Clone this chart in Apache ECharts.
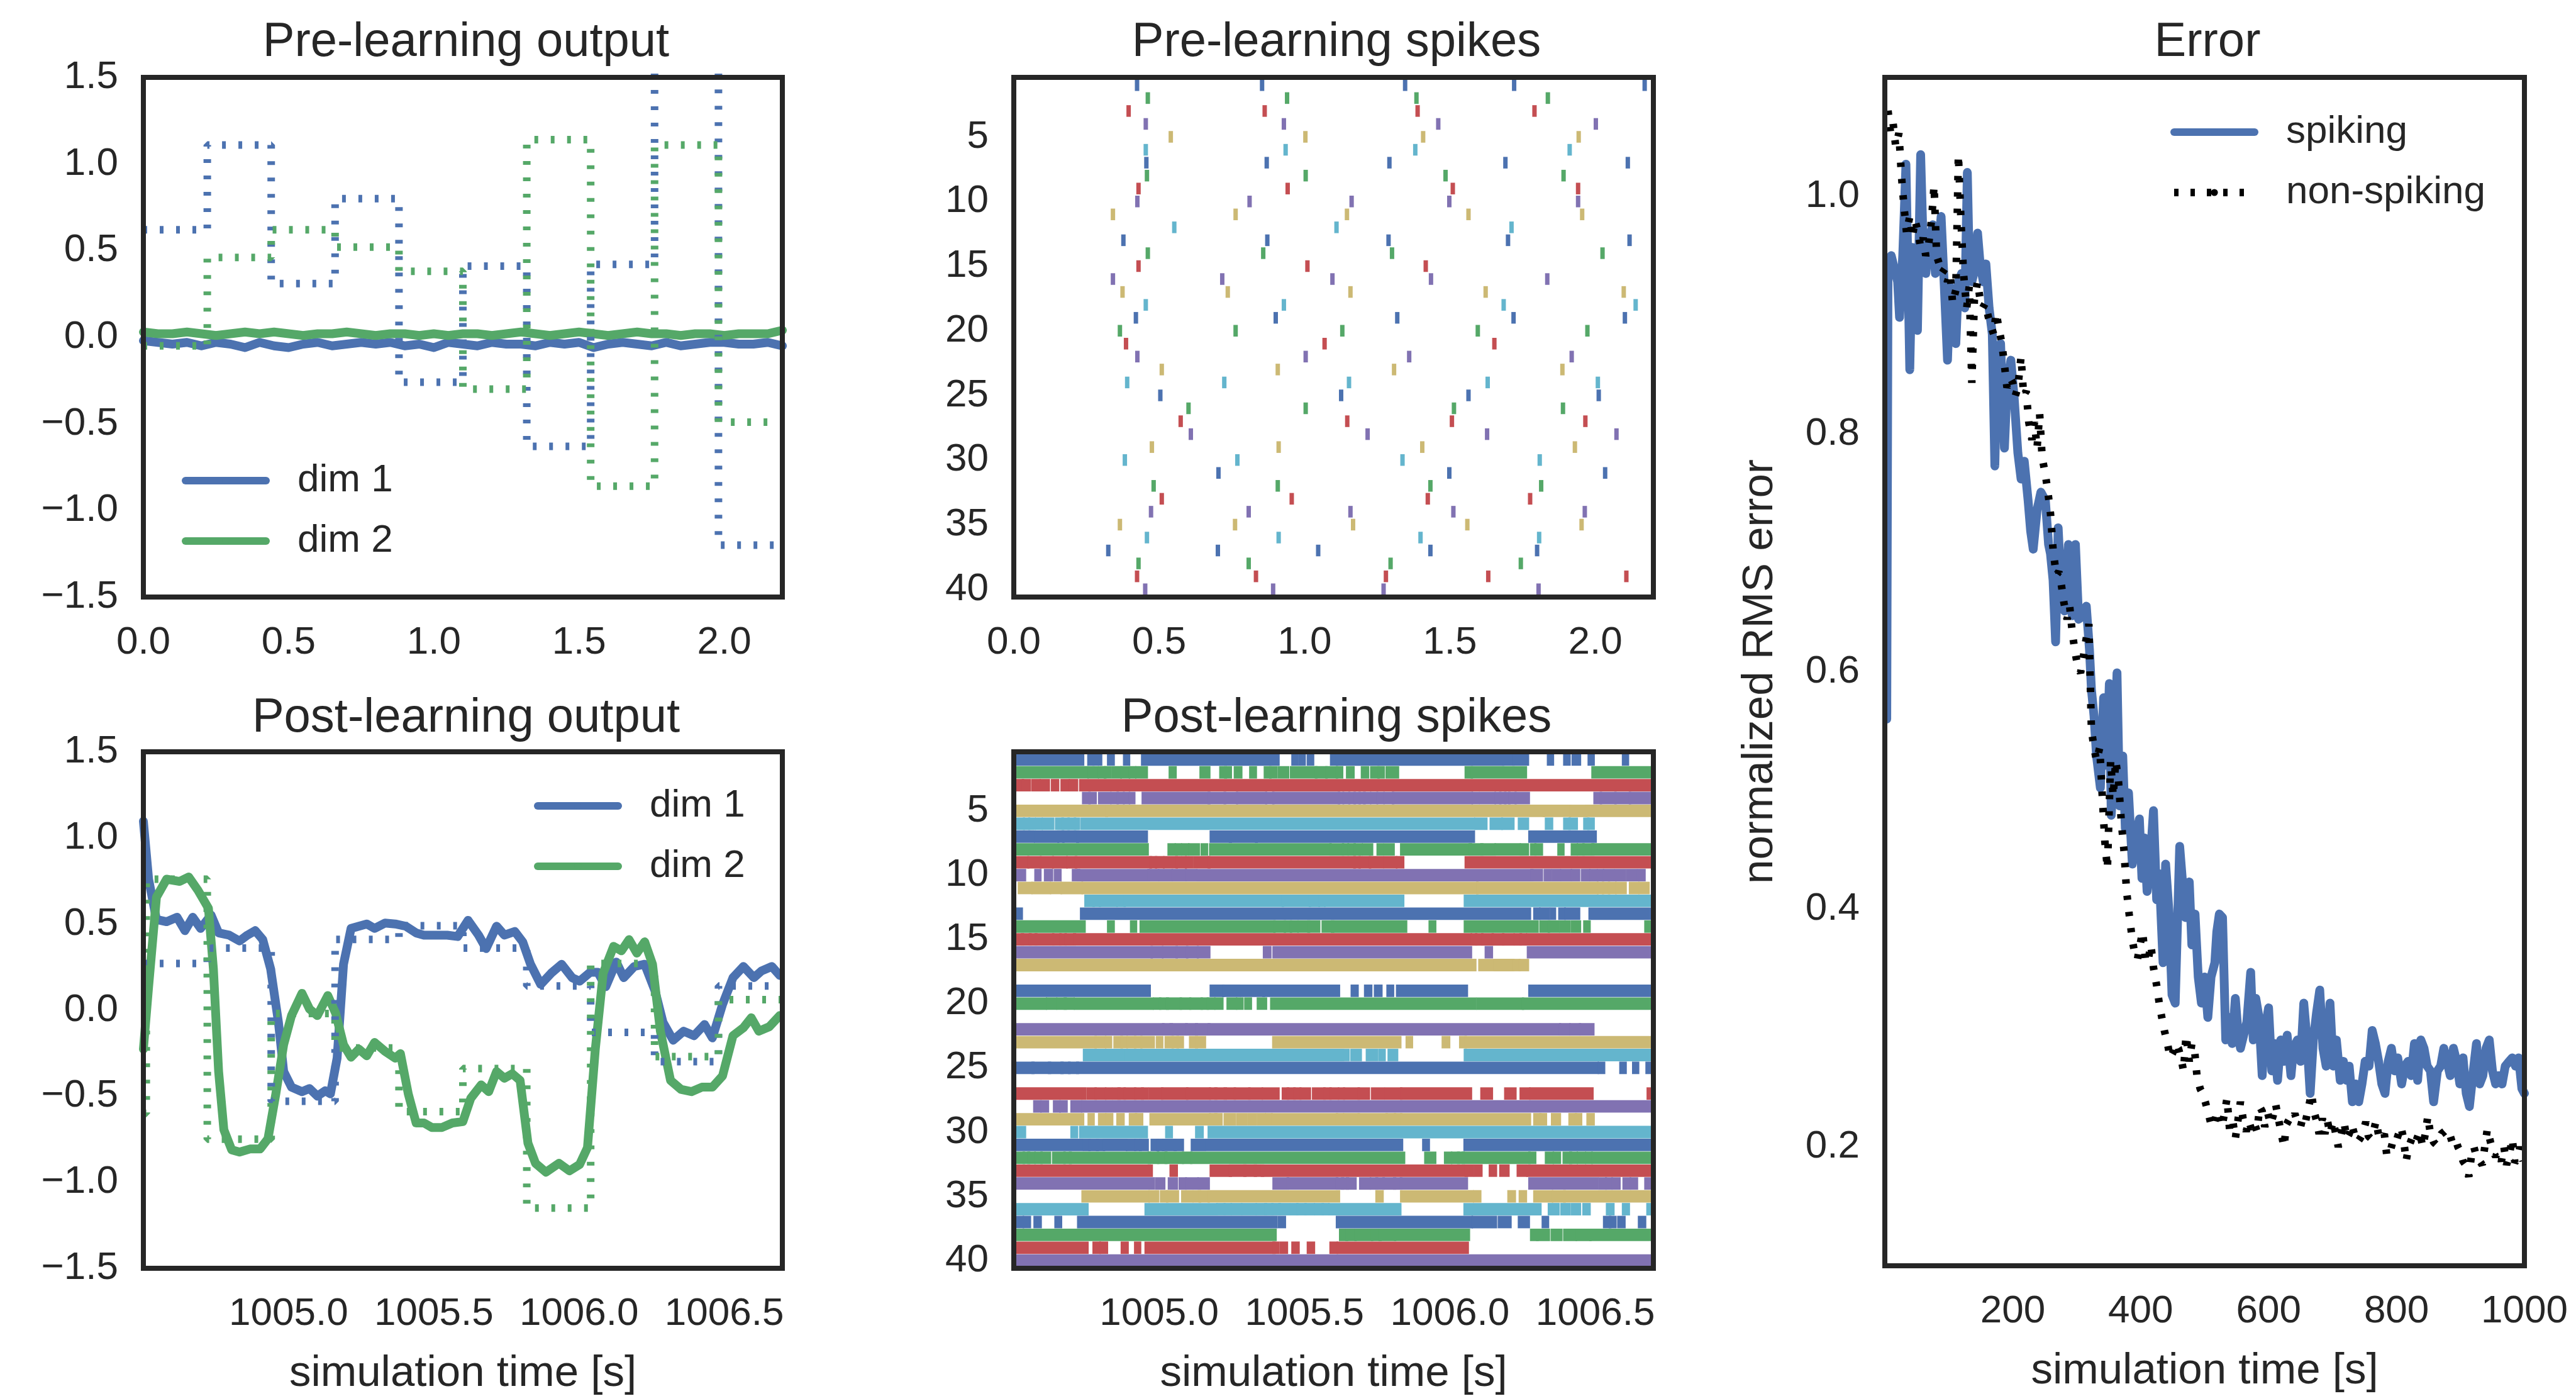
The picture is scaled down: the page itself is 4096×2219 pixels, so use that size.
<!DOCTYPE html>
<html>
<head>
<meta charset="utf-8">
<script src="https://cdn.jsdelivr.net/npm/echarts@6/dist/echarts.min.js"></script>
<style>
html,body{margin:0;padding:0;background:#fff;}
#chart{width:4096px;height:2219px;}
</style>
</head>
<body>
<div id="chart"></div>
<script>
// ---------------- DATA ----------------
const palette = ['#4C72B0', '#55A868', '#C44E52', '#8172B2', '#CCB974', '#64B5CD'];

// Pre-learning output
const preTime = [0.00,0.05,0.10,0.15,0.20,0.25,0.30,0.35,0.40,0.45,0.50,0.55,0.60,0.65,0.70,0.75,0.80,0.85,0.90,0.95,1.00,1.05,1.10,1.15,1.20,1.25,1.30,1.35,1.40,1.45,1.50,1.55,1.60,1.65,1.70,1.75,1.80,1.85,1.90,1.95,2.00,2.05,2.10,2.15,2.20];
const preDim1 = [-0.02,-0.03,-0.04,-0.03,-0.05,-0.03,-0.04,-0.06,-0.03,-0.05,-0.06,-0.04,-0.03,-0.05,-0.04,-0.03,-0.04,-0.03,-0.05,-0.04,-0.06,-0.03,-0.04,-0.05,-0.03,-0.04,-0.04,-0.05,-0.03,-0.04,-0.03,-0.06,-0.04,-0.03,-0.04,-0.05,-0.03,-0.05,-0.04,-0.03,-0.03,-0.04,-0.04,-0.03,-0.05];
const preDim2 = [0.03,0.02,0.02,0.03,0.02,0.01,0.02,0.03,0.02,0.03,0.02,0.01,0.02,0.02,0.03,0.02,0.01,0.02,0.02,0.01,0.02,0.01,0.02,0.02,0.01,0.02,0.03,0.02,0.01,0.02,0.03,0.02,0.01,0.02,0.03,0.02,0.02,0.01,0.02,0.02,0.01,0.02,0.02,0.02,0.04];
const preTargetTime = [0,0.22,0.44,0.66,0.88,1.10,1.32,1.54,1.76,1.98,2.20];
const preTarget1 = [0.62,1.11,0.31,0.80,-0.26,0.41,-0.63,0.42,1.80,-1.20,-1.20];
const preTarget2 = [-0.05,0.46,0.62,0.52,0.38,-0.30,1.14,-0.86,1.11,-0.49,-0.49];

// Post-learning output
const postTime1 = [1004.500,1004.518,1004.545,1004.580,1004.616,1004.643,1004.670,1004.697,1004.733,1004.759,1004.795,1004.831,1004.858,1004.885,1004.911,1004.938,1004.965,1004.983,1005.010,1005.046,1005.072,1005.099,1005.126,1005.144,1005.167,1005.189,1005.215,1005.242,1005.269,1005.296,1005.332,1005.367,1005.403,1005.439,1005.466,1005.511,1005.546,1005.582,1005.618,1005.654,1005.680,1005.716,1005.743,1005.779,1005.806,1005.833,1005.868,1005.904,1005.940,1005.976,1006.002,1006.038,1006.065,1006.092,1006.128,1006.154,1006.190,1006.226,1006.262,1006.289,1006.324,1006.360,1006.396,1006.432,1006.459,1006.494,1006.530,1006.566,1006.602,1006.628,1006.664,1006.691];
const postDim1 = [1.097,0.760,0.526,0.513,0.539,0.461,0.539,0.474,0.552,0.448,0.435,0.401,0.435,0.461,0.409,0.240,-0.071,-0.357,-0.448,-0.474,-0.456,-0.500,-0.469,-0.487,-0.279,0.266,0.474,0.487,0.500,0.474,0.505,0.500,0.487,0.448,0.435,0.435,0.435,0.427,0.521,0.435,0.357,0.487,0.435,0.456,0.396,0.266,0.149,0.214,0.266,0.188,0.168,0.219,0.219,0.136,0.279,0.188,0.253,0.266,0.110,-0.071,-0.175,-0.123,-0.149,-0.084,-0.162,0.032,0.188,0.253,0.188,0.227,0.253,0.201];
const postTime2 = [1004.500,1004.518,1004.545,1004.580,1004.625,1004.656,1004.688,1004.724,1004.741,1004.759,1004.777,1004.804,1004.831,1004.867,1004.902,1004.929,1004.956,1004.983,1005.010,1005.046,1005.072,1005.099,1005.135,1005.162,1005.189,1005.215,1005.242,1005.269,1005.296,1005.332,1005.367,1005.385,1005.412,1005.439,1005.466,1005.493,1005.528,1005.564,1005.600,1005.627,1005.663,1005.689,1005.716,1005.743,1005.770,1005.797,1005.824,1005.850,1005.886,1005.931,1005.967,1006.002,1006.029,1006.056,1006.083,1006.119,1006.146,1006.172,1006.199,1006.226,1006.253,1006.280,1006.315,1006.351,1006.387,1006.423,1006.459,1006.494,1006.530,1006.566,1006.593,1006.619,1006.655,1006.691];
const postDim2 = [-0.227,0.136,0.656,0.760,0.747,0.773,0.695,0.591,0.240,-0.357,-0.695,-0.812,-0.825,-0.807,-0.807,-0.747,-0.487,-0.201,-0.032,0.097,0.006,-0.032,0.084,-0.019,-0.201,-0.274,-0.227,-0.266,-0.188,-0.240,-0.279,-0.253,-0.487,-0.656,-0.656,-0.682,-0.682,-0.656,-0.648,-0.513,-0.435,-0.474,-0.357,-0.396,-0.370,-0.409,-0.773,-0.890,-0.942,-0.890,-0.934,-0.897,-0.799,-0.227,0.214,0.370,0.344,0.409,0.331,0.396,0.266,-0.123,-0.409,-0.461,-0.474,-0.448,-0.448,-0.383,-0.149,-0.103,-0.045,-0.123,-0.097,-0.032];
const postTargetTime1 = [1004.50,1004.72,1004.94,1005.16,1005.38,1005.60,1005.82,1006.04,1006.26,1006.48,1006.70];
const postTarget1 = [0.27,0.36,-0.53,0.41,0.49,0.36,0.14,-0.13,-0.30,0.14,0.14];
const postTargetTime2 = [1004.50,1004.51,1004.72,1004.94,1005.16,1005.38,1005.60,1005.82,1006.04,1006.26,1006.48,1006.70];
const postTarget2 = [-0.60,0.76,-0.75,-0.02,-0.22,-0.59,-0.34,-1.15,0.27,-0.27,0.06,0.06];

// Pre-learning spikes: spike times (s) for neurons 1..40
const preSpikeRows = [
[0.424,0.854,1.346,1.721,2.170],[0.461,0.940,1.385,1.837],[0.395,0.863,1.389,1.791],[0.454,0.929,1.460,2.002],
[0.540,1.003,1.408,1.943],[0.454,0.935,1.381,1.912],[0.456,0.870,1.292,1.691,2.112],[0.458,1.004,1.485,1.891],
[0.429,0.942,1.510,1.941],[0.425,0.811,1.162,1.498,1.941],[0.341,0.763,1.146,1.564,1.955],[0.552,1.110,1.712],
[0.377,0.872,1.289,1.700,2.118],[0.461,0.858,1.301,2.025],[0.429,1.010,1.417],[0.341,0.717,1.096,1.435,1.835],
[0.374,0.736,1.158,1.623,2.098],[0.454,0.929,1.685,2.139],[0.420,0.901,1.319,1.719,2.102],[0.365,0.763,1.130,1.596,1.973],
[0.386,1.069,1.653],[0.425,1.004,1.360,1.919],[0.509,0.908,1.308,1.887],[0.390,0.724,1.153,1.630,2.009],
[0.504,1.126,1.564,2.012],[0.601,1.004,1.514,1.889],[0.574,1.147,1.507,1.966],[0.609,1.217,1.628,2.073],
[0.475,0.911,1.405,1.930],[0.382,0.769,1.337,1.809],[0.704,1.498,2.034],[0.481,0.908,1.433,1.814],
[0.509,0.956,1.424,1.776],[0.472,0.808,1.158,1.512,1.964],[0.365,0.761,1.167,1.560,1.953],[0.458,0.911,1.399,1.807],
[0.325,0.702,1.047,1.433,1.800],[0.429,0.808,1.296,1.744],[0.424,0.833,1.280,1.632,2.107],[0.452,0.892,1.272,1.805]
];

// Post-learning spikes: [start, end] time intervals (s) of spikes per neuron 1..40
const postSpikeRows = [
[[1004.514,1004.735],[1004.760,1004.770],[1004.778,1004.797],[1004.828,1004.840],[1004.883,1004.893],[1004.945,1005.407],[1005.462,1005.472],[1005.486,1005.497],[1005.515,1005.526],[1005.595,1005.608],[1005.615,1006.180],[1006.187,1006.215],[1006.222,1006.265],[1006.341,1006.351],[1006.397,1006.408],[1006.426,1006.444],[1006.481,1006.491],[1006.599,1006.609]],
[[1004.514,1004.750],[1004.761,1004.785],[1004.797,1004.811],[1004.817,1004.828],[1004.843,1004.864],[1004.874,1004.893],[1004.903,1004.914],[1004.925,1004.954],[1005.040,1005.053],[1005.146,1005.169],[1005.214,1005.226],[1005.231,1005.243],[1005.264,1005.279],[1005.317,1005.329],[1005.367,1005.379],[1005.386,1005.400],[1005.415,1005.440],[1005.457,1005.537],[1005.543,1005.572],[1005.579,1005.608],[1005.615,1005.626],[1005.650,1005.665],[1005.701,1005.715],[1005.733,1005.751],[1005.758,1005.769],[1005.786,1005.818],[1006.058,1006.072],[1006.079,1006.258],[1006.494,1006.690]],
[[1004.516,1004.528],[1004.535,1004.552],[1004.568,1004.585],[1004.597,1004.617],[1004.635,1004.649],[1004.668,1004.685],[1004.697,1004.714],[1004.732,1006.690]],
[[1004.742,1004.757],[1004.764,1004.778],[1004.797,1004.828],[1004.840,1004.854],[1004.861,1004.874],[1004.883,1004.893],[1004.903,1004.911],[1004.947,1005.169],[1005.174,1005.223],[1005.229,1005.264],[1005.272,1005.364],[1005.372,1005.389],[1005.396,1005.615],[1005.622,1005.629],[1005.638,1005.650],[1005.658,1005.669],[1005.676,1005.686],[1005.693,1005.703],[1005.709,1005.722],[1005.733,1005.746],[1005.755,1005.768],[1005.779,1005.801],[1005.808,1006.072],[1006.082,1006.094],[1006.108,1006.151],[1006.161,1006.170],[1006.177,1006.187],[1006.194,1006.201],[1006.208,1006.222],[1006.230,1006.268],[1006.501,1006.516],[1006.523,1006.566],[1006.573,1006.616],[1006.623,1006.690]],
[[1004.514,1004.817],[1004.822,1006.320],[1006.327,1006.410],[1006.418,1006.466],[1006.473,1006.690]],
[[1004.516,1004.531],[1004.539,1004.549],[1004.557,1004.568],[1004.581,1004.592],[1004.604,1004.632],[1004.649,1004.665],[1004.671,1004.685],[1004.692,1004.707],[1004.714,1004.721],[1004.737,1006.079],[1006.091,1006.122],[1006.144,1006.175],[1006.184,1006.215],[1006.241,1006.265],[1006.334,1006.348],[1006.397,1006.408],[1006.415,1006.433],[1006.466,1006.473],[1006.480,1006.491]],
[[1004.514,1004.564],[1004.577,1004.649],[1004.657,1004.667],[1004.674,1004.717],[1004.722,1004.954],[1005.181,1005.243],[1005.247,1005.332],[1005.337,1006.079],[1006.277,1006.498]],
[[1004.514,1004.957],[1005.036,1005.050],[1005.061,1005.071],[1005.083,1005.097],[1005.107,1005.133],[1005.150,1005.161],[1005.179,1005.586],[1005.593,1005.629],[1005.636,1005.646],[1005.655,1005.669],[1005.676,1005.693],[1005.705,1005.729],[1005.755,1005.765],[1005.779,1005.803],[1005.836,1006.069],[1006.072,1006.108],[1006.112,1006.151],[1006.161,1006.237],[1006.248,1006.265],[1006.283,1006.290],[1006.298,1006.313],[1006.377,1006.387],[1006.423,1006.433],[1006.444,1006.456],[1006.463,1006.490],[1006.494,1006.690]],
[[1004.514,1004.546],[1004.554,1004.588],[1004.597,1004.631],[1004.639,1004.678],[1004.688,1004.711],[1004.717,1004.968],[1004.974,1004.986],[1004.993,1005.011],[1005.021,1005.057],[1005.064,1005.088],[1005.096,1005.111],[1005.126,1005.169],[1005.174,1005.669],[1005.675,1005.686],[1005.693,1005.722],[1005.729,1005.765],[1005.779,1005.812],[1005.822,1005.836],[1006.058,1006.690]],
[[1004.514,1004.535],[1004.578,1004.588],[1004.611,1004.628],[1004.645,1004.657],[1004.707,1004.721],[1004.725,1004.961],[1004.967,1004.993],[1005.003,1005.040],[1005.050,1005.088],[1005.097,1005.124],[1005.136,1006.280],[1006.284,1006.313],[1006.330,1006.344],[1006.358,1006.375],[1006.387,1006.413],[1006.423,1006.441],[1006.458,1006.476],[1006.487,1006.501],[1006.513,1006.523],[1006.534,1006.559],[1006.573,1006.599],[1006.613,1006.637],[1006.651,1006.666]],
[[1004.521,1004.557],[1004.568,1004.621],[1004.632,1004.659],[1004.668,1004.731],[1004.740,1006.091],[1006.098,1006.504],[1006.513,1006.523],[1006.530,1006.544],[1006.551,1006.566],[1006.576,1006.601],[1006.623,1006.644],[1006.656,1006.680]],
[[1004.750,1004.771],[1004.778,1004.792],[1004.800,1004.850],[1004.860,1004.878],[1004.885,1005.422],[1005.429,1005.515],[1005.522,1005.546],[1005.555,1005.565],[1005.575,1005.836],[1006.055,1006.690]],
[[1004.514,1004.524],[1004.735,1006.272],[1006.294,1006.304],[1006.315,1006.337],[1006.351,1006.358],[1006.380,1006.391],[1006.401,1006.441],[1006.484,1006.690]],
[[1004.514,1004.740],[1004.828,1004.840],[1004.907,1004.917],[1004.940,1005.393],[1005.400,1005.429],[1005.436,1005.450],[1005.457,1005.472],[1005.483,1005.512],[1005.517,1005.547],[1005.566,1005.595],[1005.598,1005.846],[1005.934,1005.946],[1006.055,1006.298],[1006.315,1006.337],[1006.344,1006.370],[1006.384,1006.408],[1006.423,1006.444],[1006.466,1006.477],[1006.676,1006.690]],
[[1004.514,1004.528],[1004.532,1004.554],[1004.559,1004.574],[1004.579,1004.632],[1004.639,1004.657],[1004.664,1004.675],[1004.682,1004.707],[1004.711,1006.069],[1006.079,1006.087],[1006.094,1006.108],[1006.115,1006.144],[1006.151,1006.180],[1006.187,1006.215],[1006.227,1006.241],[1006.247,1006.258],[1006.270,1006.690]],
[[1004.514,1004.971],[1004.978,1005.007],[1005.017,1005.057],[1005.064,1005.093],[1005.100,1005.129],[1005.137,1005.169],[1005.364,1005.379],[1005.397,1006.069],[1006.127,1006.141],[1006.272,1006.690]],
[[1004.514,1006.084],[1006.105,1006.151],[1006.158,1006.215],[1006.222,1006.237],[1006.244,1006.265]],
[],
[[1004.514,1004.964],[1005.181,1005.217],[1005.224,1005.272],[1005.286,1005.357],[1005.362,1005.615],[1005.666,1005.679],[1005.712,1005.726],[1005.746,1005.761],[1005.789,1005.801],[1005.822,1006.055],[1006.277,1006.690]],
[[1004.514,1004.607],[1004.618,1004.642],[1004.654,1004.675],[1004.679,1004.702],[1004.714,1004.974],[1004.986,1005.000],[1005.007,1005.026],[1005.031,1005.071],[1005.078,1005.103],[1005.111,1005.143],[1005.150,1005.164],[1005.171,1005.186],[1005.197,1005.214],[1005.239,1005.261],[1005.272,1005.283],[1005.300,1005.312],[1005.343,1005.364],[1005.389,1006.084],[1006.098,1006.248],[1006.255,1006.690]],
[],
[[1004.514,1005.011],[1005.017,1005.040],[1005.043,1005.091],[1005.097,1005.126],[1005.131,1005.169],[1005.174,1006.375],[1006.383,1006.408],[1006.418,1006.444],[1006.451,1006.490]],
[[1004.514,1004.778],[1004.785,1004.811],[1004.821,1004.831],[1004.850,1004.868],[1004.874,1004.885],[1004.895,1004.914],[1004.921,1004.935],[1004.943,1004.978],[1004.996,1005.007],[1005.026,1005.043],[1005.050,1005.061],[1005.067,1005.078],[1005.110,1005.126],[1005.131,1005.154],[1005.396,1005.826],[1005.855,1005.866],[1005.979,1005.994],[1006.039,1006.051],[1006.058,1006.690]],
[[1004.745,1004.808],[1004.814,1004.880],[1004.890,1005.629],[1005.633,1005.648],[1005.665,1005.690],[1005.718,1005.746],[1005.761,1005.772],[1005.793,1005.815],[1006.055,1006.690]],
[[1004.514,1004.564],[1004.568,1004.621],[1004.625,1004.664],[1004.668,1004.688],[1004.694,1004.717],[1004.722,1006.505],[1006.516,1006.527],[1006.590,1006.601],[1006.634,1006.644],[1006.680,1006.690]],
[],
[[1004.514,1004.742],[1004.757,1004.778],[1004.785,1004.811],[1004.821,1004.831],[1004.845,1004.860],[1004.864,1004.878],[1004.885,1004.914],[1004.921,1004.940],[1004.945,1004.957],[1004.971,1005.007],[1005.014,1005.093],[1005.100,1005.171],[1005.179,1005.193],[1005.197,1005.226],[1005.229,1005.257],[1005.264,1005.307],[1005.314,1005.350],[1005.360,1005.407],[1005.429,1005.440],[1005.446,1005.462],[1005.469,1005.482],[1005.490,1005.515],[1005.533,1005.565],[1005.572,1005.586],[1005.593,1005.612],[1005.622,1005.632],[1005.640,1005.683],[1005.690,1005.718],[1005.736,1005.769],[1005.783,1005.829],[1005.836,1006.069],[1006.112,1006.141],[1006.194,1006.222],[1006.247,1006.270],[1006.280,1006.487],[1006.684,1006.690]],
[[1004.574,1004.588],[1004.599,1004.614],[1004.642,1004.654],[1004.664,1004.678],[1004.702,1004.728],[1004.740,1006.690]],
[[1004.514,1004.735],[1004.761,1004.771],[1004.797,1004.811],[1004.822,1004.835],[1004.860,1004.874],[1004.903,1004.917],[1004.924,1004.938],[1004.974,1005.171],[1005.179,1005.193],[1005.197,1005.211],[1005.229,1005.257],[1005.272,1005.297],[1005.312,1005.329],[1005.343,1005.360],[1005.372,1005.383],[1005.393,1005.608],[1005.615,1005.629],[1005.640,1005.683],[1005.690,1005.779],[1005.786,1005.808],[1005.815,1005.829],[1005.836,1006.272],[1006.294,1006.308],[1006.315,1006.327],[1006.355,1006.375],[1006.415,1006.430],[1006.437,1006.448],[1006.477,1006.491]],
[[1004.514,1004.535],[1004.702,1004.714],[1004.732,1004.954],[1005.028,1005.040],[1005.131,1005.146],[1005.174,1006.690]],
[[1004.514,1004.731],[1004.745,1004.757],[1004.764,1004.785],[1004.790,1004.807],[1004.814,1004.883],[1004.893,1004.914],[1004.921,1004.933],[1004.938,1004.957],[1004.978,1004.993],[1004.997,1005.011],[1005.017,1005.053],[1005.057,1005.078],[1005.116,1005.153],[1005.167,1005.832],[1005.912,1005.924],[1006.054,1006.690]],
[[1004.514,1004.531],[1004.538,1004.549],[1004.554,1004.568],[1004.578,1004.592],[1004.599,1004.621],[1004.639,1004.671],[1004.678,1004.692],[1004.697,1004.964],[1004.968,1004.993],[1005.000,1005.021],[1005.026,1005.078],[1005.086,1005.107],[1005.114,1005.839],[1005.919,1005.946],[1005.987,1006.001],[1006.011,1006.027],[1006.032,1006.044],[1006.048,1006.270],[1006.277,1006.290],[1006.334,1006.351],[1006.361,1006.375],[1006.395,1006.413],[1006.418,1006.433],[1006.444,1006.461],[1006.473,1006.484],[1006.494,1006.690]],
[[1004.514,1004.971],[1005.043,1005.057],[1005.181,1005.243],[1005.247,1005.293],[1005.297,1005.329],[1005.333,1005.354],[1005.357,1006.055],[1006.058,1006.075],[1006.089,1006.105],[1006.141,1006.155],[1006.177,1006.198],[1006.237,1006.261],[1006.270,1006.690]],
[[1004.514,1004.978],[1004.993,1005.014],[1005.037,1005.057],[1005.074,1005.088],[1005.097,1005.129],[1005.139,1005.167],[1005.397,1005.440],[1005.446,1005.609],[1005.615,1005.629],[1005.633,1005.646],[1005.650,1005.672],[1005.695,1005.722],[1005.732,1005.746],[1005.751,1005.769],[1005.775,1005.808],[1005.812,1005.829],[1005.835,1006.055],[1006.277,1006.504],[1006.518,1006.533],[1006.541,1006.553],[1006.563,1006.580],[1006.601,1006.616],[1006.626,1006.640],[1006.676,1006.690]],
[[1004.740,1004.960],[1004.971,1004.993],[1005.010,1005.024],[1005.031,1005.061],[1005.083,1005.110],[1005.123,1005.137],[1005.143,1005.167],[1005.174,1005.615],[1005.751,1005.765],[1005.836,1006.075],[1006.087,1006.101],[1006.205,1006.220],[1006.244,1006.258],[1006.294,1006.348],[1006.358,1006.391],[1006.397,1006.690]],
[[1004.514,1004.750],[1004.957,1005.193],[1005.204,1005.221],[1005.229,1005.243],[1005.253,1005.279],[1005.289,1005.329],[1005.339,1005.364],[1005.369,1005.386],[1005.393,1005.412],[1005.417,1005.443],[1005.457,1005.472],[1005.479,1005.500],[1005.507,1005.529],[1005.540,1005.560],[1005.566,1005.579],[1005.589,1005.826],[1006.054,1006.308],[1006.344,1006.370],[1006.387,1006.408],[1006.423,1006.444],[1006.463,1006.477],[1006.544,1006.559],[1006.599,1006.612],[1006.683,1006.690]],
[[1004.514,1004.528],[1004.538,1004.552],[1004.575,1004.589],[1004.647,1004.659],[1004.725,1005.400],[1005.415,1005.429],[1005.615,1006.072],[1006.082,1006.155],[1006.172,1006.205],[1006.241,1006.268],[1006.323,1006.334],[1006.534,1006.548],[1006.554,1006.566],[1006.583,1006.597],[1006.654,1006.668]],
[[1004.514,1005.397],[1005.626,1005.643],[1005.648,1005.672],[1005.679,1005.729],[1005.736,1005.758],[1005.762,1005.808],[1005.815,1006.062],[1006.283,1006.298],[1006.304,1006.337],[1006.354,1006.380],[1006.397,1006.430],[1006.440,1006.480],[1006.487,1006.690]],
[[1004.514,1004.750],[1004.778,1004.792],[1004.802,1004.817],[1004.875,1004.888],[1004.921,1004.931],[1004.957,1005.393],[1005.397,1005.407],[1005.422,1005.436],[1005.462,1005.476],[1005.515,1005.529],[1005.593,1005.608],[1005.618,1006.058]],
[[1004.514,1006.690]]
];

// Error
const errSpikingTime = [3,5,10,20,23,28,33,36,39,43,47,51,56,60,64,70,75,79,84,88,93,98,102,106,111,115,120,125,129,132,136,141,145,149,154,158,163,168,172,176,181,187,191,197,202,208,213,218,224,228,232,238,244,251,256,259,263,267,271,276,281,287,293,298,303,310,315,320,323,327,331,337,342,347,351,354,359,363,367,372,376,381,387,392,398,402,406,410,415,420,425,429,435,439,444,449,454,461,465,470,476,480,485,490,495,500,505,510,516,519,523,528,533,538,543,548,552,556,561,566,572,576,580,585,590,594,600,605,609,614,619,624,629,635,639,645,650,655,660,665,670,675,680,685,690,696,701,706,712,717,722,726,731,736,741,746,751,757,762,767,772,777,782,787,792,797,802,808,813,818,823,828,833,838,843,848,853,858,864,869,874,879,884,889,894,899,904,909,914,920,925,930,935,940,945,950,955,960,965,970,976,981,986,991,996,1000];
const errSpiking = [0.56,0.943,0.950,0.928,0.898,0.950,1.027,0.943,0.854,0.957,0.928,0.887,1.035,0.957,0.935,0.965,0.976,0.935,0.957,0.983,0.924,0.862,0.924,0.898,0.876,0.928,0.935,0.906,1.020,0.943,0.928,0.939,0.969,0.943,0.928,0.943,0.906,0.884,0.773,0.869,0.876,0.788,0.839,0.862,0.832,0.784,0.762,0.777,0.744,0.718,0.703,0.736,0.751,0.744,0.707,0.699,0.677,0.625,0.721,0.666,0.651,0.707,0.647,0.707,0.644,0.647,0.655,0.618,0.585,0.563,0.529,0.502,0.578,0.521,0.590,0.479,0.529,0.599,0.487,0.529,0.468,0.498,0.438,0.460,0.476,0.426,0.460,0.415,0.442,0.483,0.408,0.430,0.355,0.438,0.400,0.328,0.321,0.453,0.426,0.393,0.423,0.370,0.396,0.343,0.321,0.343,0.309,0.343,0.355,0.381,0.396,0.393,0.290,0.309,0.287,0.325,0.298,0.283,0.294,0.305,0.347,0.290,0.325,0.309,0.260,0.298,0.317,0.264,0.287,0.256,0.290,0.272,0.294,0.260,0.283,0.290,0.272,0.321,0.290,0.245,0.290,0.313,0.332,0.283,0.268,0.321,0.268,0.290,0.256,0.272,0.256,0.268,0.238,0.253,0.238,0.253,0.272,0.268,0.298,0.287,0.272,0.253,0.245,0.272,0.283,0.264,0.275,0.253,0.268,0.272,0.260,0.287,0.256,0.290,0.283,0.268,0.264,0.238,0.264,0.268,0.283,0.272,0.260,0.283,0.272,0.253,0.275,0.245,0.234,0.264,0.287,0.253,0.260,0.283,0.290,0.264,0.253,0.260,0.253,0.268,0.272,0.275,0.268,0.275,0.249,0.245];
const errNonSpikingTime = [5,9,13,17,22,26,30,34,39,43,47,51,56,60,64,68,73,77,81,85,89,94,98,102,106,111,115,119,123,128,132,136,140,145,149,153,157,162,166,170,174,179,183,187,191,196,200,204,208,213,217,221,225,230,234,238,242,246,251,255,259,263,268,272,276,280,285,289,293,297,302,306,310,314,319,323,327,331,336,340,344,348,353,357,361,365,370,374,378,382,387,391,395,399,403,408,412,416,420,425,429,433,437,442,446,450,454,459,463,467,471,476,480,484,488,493,497,501,505,510,514,518,522,527,531,535,539,544,548,552,556,560,565,569,573,577,582,586,590,594,599,603,607,611,616,620,624,628,633,637,641,645,650,654,658,662,667,671,675,679,684,688,692,696,701,705,709,713,718,722,726,730,735,739,743,747,752,756,760,764,768,773,777,781,785,790,794,798,802,807,811,815,819,824,828,832,836,841,845,849,853,858,862,866,870,875,879,883,887,892,896,900,904,908,913,917,921,925,930,934,938,942,947,951,955,959,964,968,972,976,981,985,989,993,998];
const errNonSpiking = [1.072,1.053,1.061,1.042,1.053,1.017,0.991,0.969,0.983,0.965,0.980,0.972,0.957,0.965,0.950,0.957,0.980,1.009,0.950,0.943,0.935,0.939,0.928,0.935,0.910,0.921,1.035,0.980,0.935,0.906,0.924,0.843,0.913,0.928,0.913,0.906,0.910,0.898,0.891,0.884,0.902,0.887,0.876,0.858,0.839,0.847,0.843,0.832,0.839,0.865,0.832,0.836,0.810,0.795,0.810,0.788,0.817,0.780,0.766,0.751,0.733,0.703,0.681,0.684,0.673,0.658,0.644,0.655,0.633,0.618,0.603,0.599,0.611,0.625,0.640,0.551,0.536,0.525,0.536,0.495,0.457,0.434,0.525,0.495,0.525,0.510,0.472,0.449,0.415,0.396,0.374,0.362,0.358,0.370,0.381,0.355,0.358,0.370,0.351,0.336,0.321,0.309,0.298,0.287,0.275,0.279,0.287,0.283,0.275,0.264,0.294,0.272,0.287,0.283,0.260,0.249,0.245,0.238,0.230,0.219,0.217,0.226,0.230,0.217,0.228,0.241,0.215,0.222,0.207,0.222,0.238,0.224,0.213,0.222,0.215,0.221,0.213,0.234,0.230,0.217,0.228,0.219,0.226,0.236,0.222,0.211,0.200,0.219,0.224,0.222,0.228,0.221,0.217,0.226,0.222,0.232,0.245,0.230,0.222,0.211,0.224,0.211,0.222,0.211,0.222,0.211,0.200,0.209,0.221,0.207,0.211,0.219,0.209,0.204,0.207,0.211,0.221,0.209,0.207,0.213,0.222,0.207,0.207,0.211,0.192,0.196,0.204,0.202,0.209,0.217,0.207,0.188,0.200,0.207,0.202,0.207,0.213,0.200,0.211,0.226,0.211,0.204,0.202,0.207,0.211,0.213,0.215,0.211,0.204,0.207,0.200,0.196,0.188,0.185,0.175,0.192,0.200,0.192,0.188,0.185,0.200,0.215,0.204,0.196,0.192,0.196,0.188,0.200,0.185,0.192,0.207,0.187,0.190,0.200,0.188];

// Tick label values
const preXTicks = [0, 0.5, 1.0, 1.5, 2.0];
const postXTicks = [1005.0, 1005.5, 1006.0, 1006.5];
const spikeYTicks = [5, 10, 15, 20, 25, 30, 35, 40];
const errXTicks = [200, 400, 600, 800, 1000];
const errYTicks = [0.2, 0.4, 0.6, 0.8, 1.0];

// ---------------- CHART ----------------
const FONT = 'Liberation Sans, Arial, sans-serif';
const TXT = '#262626';
const TICK_FS = 62, LABEL_FS = 69, TITLE_FS = 76;
const LW = 14;
const DOT = [6, 20];
const zip = (xs, ys) => xs.map((x, i) => [x, ys[i]]);
const fmt1 = v => (v < 0 ? '\u2212' : '') + Math.abs(v).toFixed(1);

const grids = [
  {left: 228, top: 123, width: 1016, height: 826},
  {left: 1612, top: 123, width: 1017, height: 826},
  {left: 2997, top: 123, width: 1017, height: 1898},
  {left: 228, top: 1195, width: 1016, height: 826},
  {left: 1612, top: 1195, width: 1017, height: 826}
].map(g => Object.assign({show: true, borderColor: TXT, borderWidth: 8, backgroundColor: 'transparent', z: 10, containLabel: false}, g));

function baseAxis(extra) {
  return Object.assign({
    type: 'value',
    axisLine: {show: false},
    axisTick: {show: false},
    splitLine: {show: false},
    axisLabel: {fontFamily: FONT, fontSize: TICK_FS, color: TXT}
  }, extra);
}
function xLab(ticks, f) {
  return {fontFamily: FONT, fontSize: TICK_FS, color: TXT, margin: 42, customValues: ticks, formatter: f || (v => fmt1(v)), showMinLabel: true, showMaxLabel: true};
}
function yLab(ticks, f) {
  return {fontFamily: FONT, fontSize: TICK_FS, color: TXT, margin: 40, customValues: ticks, formatter: f || (v => fmt1(v)), showMinLabel: true, showMaxLabel: true};
}
const xName = {name: 'simulation time [s]', nameLocation: 'middle', nameGap: 133,
  nameTextStyle: {fontFamily: FONT, fontSize: LABEL_FS, color: TXT}};

const xAxes = [
  baseAxis({gridIndex: 0, min: 0, max: 2.2, axisLabel: xLab(preXTicks)}),
  baseAxis({gridIndex: 1, min: 0, max: 2.2, axisLabel: xLab(preXTicks)}),
  baseAxis(Object.assign({gridIndex: 2, min: 0, max: 1000, axisLabel: xLab(errXTicks, v => String(Math.round(v)))}, xName)),
  baseAxis(Object.assign({gridIndex: 3, min: 1004.5, max: 1006.7, axisLabel: xLab(postXTicks)}, xName)),
  baseAxis(Object.assign({gridIndex: 4, min: 1004.5, max: 1006.7, axisLabel: xLab(postXTicks)}, xName))
];
const outYTicks = [-1.5, -1.0, -0.5, 0, 0.5, 1.0, 1.5];
const yAxes = [
  baseAxis({gridIndex: 0, min: -1.5, max: 1.5, axisLabel: yLab(outYTicks)}),
  baseAxis({gridIndex: 1, min: 0.4, max: 40.6, inverse: true, axisLabel: yLab(spikeYTicks, v => String(Math.round(v)))}),
  baseAxis({gridIndex: 2, min: 0.1, max: 1.1, axisLabel: yLab(errYTicks),
    name: 'normalized RMS error', nameLocation: 'middle', nameGap: 164,
    nameTextStyle: {fontFamily: FONT, fontSize: LABEL_FS, color: TXT}}),
  baseAxis({gridIndex: 3, min: -1.5, max: 1.5, axisLabel: yLab(outYTicks)}),
  baseAxis({gridIndex: 4, min: 0.4, max: 40.6, inverse: true, axisLabel: yLab(spikeYTicks, v => String(Math.round(v)))})
];

// spike marks: row height fraction and tick width (px)
function makeSpikeRender(fill, tickW) {
  return function (params, api) {
    const row = api.value(0), t0 = api.value(1), t1 = api.value(2);
    const pa = api.coord([t0, row]);
    const pb = api.coord([t1, row]);
    const unit = Math.abs(api.size([0, 1])[1]);
    const h = unit * fill;
    const x0 = Math.min(pa[0], pb[0]) - tickW / 2, x1 = Math.max(pa[0], pb[0]) + tickW / 2;
    const cs = params.coordSys;
    const shape = echarts.graphic.clipRectByRect(
      {x: x0, y: pa[1] - h / 2, width: x1 - x0, height: h},
      {x: cs.x, y: cs.y, width: cs.width, height: cs.height});
    if (!shape) return null;
    return {type: 'rect', shape: shape, style: {fill: palette[(row - 1) % palette.length], stroke: null, lineWidth: 0}};
  };
}
const preSpikeData = [];
preSpikeRows.forEach((ts, i) => ts.forEach(t => preSpikeData.push([i + 1, t, t])));
const postSpikeData = [];
postSpikeRows.forEach((segs, i) => segs.forEach(s => postSpikeData.push([i + 1, s[0], s[1]])));

function solid(name, idx, color, data) {
  return {type: 'line', name: name, xAxisIndex: idx, yAxisIndex: idx, data: data, symbol: 'none',
    lineStyle: {color: color, width: LW, cap: 'round', join: 'round'}, itemStyle: {color: color}, z: 2, animation: false};
}
function dotted(name, idx, color, data) {
  return {type: 'line', name: name, xAxisIndex: idx, yAxisIndex: idx, data: data, symbol: 'none', step: 'end',
    lineStyle: {color: color, width: 12, type: DOT, cap: 'butt'}, itemStyle: {color: color}, z: 3, animation: false};
}

const series = [
  solid('dim 1', 0, palette[0], zip(preTime, preDim1)),
  solid('dim 2', 0, palette[1], zip(preTime, preDim2)),
  dotted('target dim 1', 0, palette[0], zip(preTargetTime, preTarget1)),
  dotted('target dim 2', 0, palette[1], zip(preTargetTime, preTarget2)),
  {type: 'custom', name: 'pre spikes', xAxisIndex: 1, yAxisIndex: 1, renderItem: makeSpikeRender(0.9, 7),
    encode: {x: [1, 2], y: 0}, data: preSpikeData, animation: false},
  {type: 'line', name: 'spiking', xAxisIndex: 2, yAxisIndex: 2, data: zip(errSpikingTime, errSpiking), symbol: 'none',
    lineStyle: {color: palette[0], width: LW, cap: 'round', join: 'round'}, itemStyle: {color: palette[0]}, animation: false, z: 2},
  {type: 'line', name: 'non-spiking', xAxisIndex: 2, yAxisIndex: 2, data: zip(errNonSpikingTime, errNonSpiking), symbol: 'none',
    lineStyle: {color: '#000000', width: 12, type: [7, 19], cap: 'butt'}, itemStyle: {color: '#000000'}, animation: false, z: 3},
  solid('dim 1', 3, palette[0], zip(postTime1, postDim1)),
  solid('dim 2', 3, palette[1], zip(postTime2, postDim2)),
  dotted('target dim 1', 3, palette[0], zip(postTargetTime1, postTarget1)),
  dotted('target dim 2', 3, palette[1], zip(postTargetTime2, postTarget2)),
  {type: 'custom', name: 'post spikes', xAxisIndex: 4, yAxisIndex: 4, renderItem: makeSpikeRender(0.97, 7),
    encode: {x: [1, 2], y: 0}, data: postSpikeData, animation: false}
];

function legend(left, top, names) {
  return {left: left, top: top, orient: 'vertical', data: names, selectedMode: false,
    itemWidth: 128, itemHeight: 14, itemGap: 34,
    lineStyle: {width: 12},
    textStyle: {fontFamily: FONT, fontSize: TICK_FS, color: TXT, lineHeight: 60, padding: [0, 0, 0, 45]}};
}

function title(text, cx, top) {
  return {text: text, left: cx, top: top, textAlign: 'center',
    textStyle: {fontFamily: FONT, fontSize: TITLE_FS, fontWeight: 'normal', color: TXT}};
}

const option = {
  animation: false,
  backgroundColor: '#ffffff',
  title: [
    title('Pre-learning output', 736, 25),
    title('Pre-learning spikes', 2120, 25),
    title('Error', 3505, 25),
    title('Post-learning output', 736, 1099),
    title('Post-learning spikes', 2120, 1099)
  ],
  legend: [
    legend(284, 728, ['dim 1', 'dim 2']),
    legend(844, 1245, ['dim 1', 'dim 2']),
    legend(3446, 174, ['spiking', 'non-spiking'])
  ],
  grid: grids,
  xAxis: xAxes,
  yAxis: yAxes,
  series: series
};

const chart = echarts.init(document.getElementById('chart'), null, {renderer: 'canvas', devicePixelRatio: 1});
chart.setOption(option);
</script>
</body>
</html>
